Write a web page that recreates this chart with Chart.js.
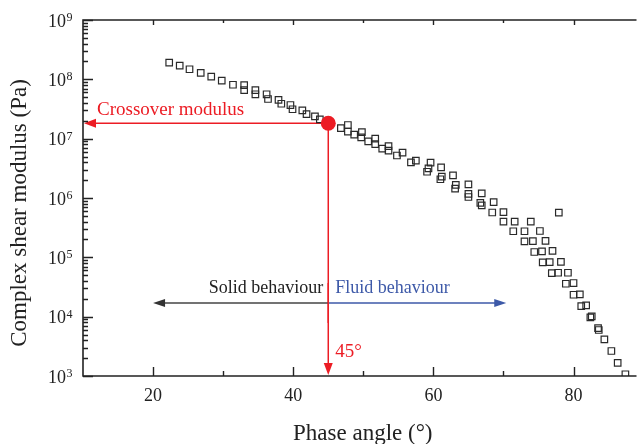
<!DOCTYPE html>
<html>
<head>
<meta charset="utf-8">
<script src="https://cdn.jsdelivr.net/npm/chart.js@4.4.1/dist/chart.umd.min.js"></script>
<style>
  html, body { margin: 0; padding: 0; background: #fff; overflow: hidden; }
  #wrap { width: 642px; height: 444px; position: relative; }
</style>
</head>
<body>
<div id="wrap"><canvas id="modulusChart"></canvas></div>
<script>
// phase angle (deg) and complex shear modulus (Pa)
const angle = [22.3, 23.8, 25.2, 26.8, 28.3, 29.8, 31.4, 33.0, 33.0, 34.6, 34.6, 36.2, 36.4, 37.9, 38.3,
    39.6, 39.9, 41.3, 41.9, 43.1, 43.8,
    46.8, 47.8, 47.8, 48.7, 49.8, 49.7, 50.7, 51.7, 51.7, 52.7, 53.6, 53.6, 54.8, 55.6, 56.8, 57.5,
    59.1, 59.3, 59.6, 61.1, 61.0, 61.2, 62.8, 63.2, 63.1, 65.0, 65.0, 65.0, 66.9, 66.7, 66.9, 68.6,
    68.4, 70.0, 70.0, 71.6, 73.9, 77.9, 71.4, 73.0, 75.2, 73.0, 74.2, 76.0, 74.4, 75.5, 77.0, 75.6,
    76.6, 78.2, 76.9, 77.8, 79.2, 78.9, 80.0, 80.0, 80.9, 81.1, 81.8, 82.4, 82.6, 83.5, 83.6, 84.4,
    85.4, 86.3, 87.4];
const modulus = [1.91e8, 1.70e8, 1.48e8, 1.28e8, 1.11e8, 9.5e7, 8.1e7, 8.0e7, 6.6e7, 6.6e7, 5.6e7, 5.6e7, 4.66e7, 4.49e7, 3.88e7,
    3.69e7, 3.13e7, 3.0e7, 2.6e7, 2.38e7, 2.12e7,
    1.50e7, 1.70e7, 1.31e7, 1.17e7, 1.29e7, 1.05e7, 9.0e6, 1.0e7, 8.1e6, 6.8e6, 7.5e6, 6.3e6, 5.2e6, 5.8e6, 4.0e6, 4.26e6,
    2.77e6, 3.16e6, 3.94e6, 3.29e6, 2.07e6, 2.29e6, 2.41e6, 1.66e6, 1.44e6, 1.70e6, 1.17e6, 1.04e6, 1.20e6, 8.3e5, 7.5e5, 8.5e5,
    5.7e5, 5.8e5, 4.0e5, 4.0e5, 4.0e5, 5.65e5, 2.75e5, 2.75e5, 2.78e5, 1.86e5, 1.88e5, 1.9e5, 1.23e5, 1.26e5, 1.28e5, 8.2e4,
    8.3e4, 8.4e4, 5.4e4, 5.5e4, 5.5e4, 3.59e4, 3.69e4, 2.34e4, 2.37e4, 1.51e4, 1.55e4, 9.75e3, 1.01e4, 6.4e3, 5.96e3, 4.15e3,
    2.64e3, 1.67e3, 1.07e3];

const crossover = [45, 1.82e7];
const solidRange = [20, 45];
const fluidRange = [45, 70.4];
const behaviourLevel = 1.7e4;

const xMajorTicks = [20, 40, 60, 80];
const xMinorTicks = [30, 50, 70];
const yDecades = [1e3, 1e4, 1e5, 1e6, 1e7, 1e8, 1e9];

const RED = '#ec1c24';
const BLUE = '#3d59a8';
const INK = '#222';
const SERIF = '"Liberation Serif", "Times New Roman", serif';

function arrowHead(ctx, x, y, dir, len, half) {
    // dir: 'left' | 'right' | 'down'
    ctx.beginPath();
    if (dir === 'left') { ctx.moveTo(x, y); ctx.lineTo(x + len, y - half); ctx.lineTo(x + len, y + half); }
    if (dir === 'right') { ctx.moveTo(x, y); ctx.lineTo(x - len, y - half); ctx.lineTo(x - len, y + half); }
    if (dir === 'down') { ctx.moveTo(x, y); ctx.lineTo(x - half, y - len); ctx.lineTo(x + half, y - len); }
    ctx.closePath();
    ctx.fill();
}

const axesPlugin = {
    id: 'axesPlugin',
    beforeDatasetsDraw(chart) {
        const ctx = chart.ctx;
        const xs = chart.scales.x, ys = chart.scales.y;
        const a = chart.chartArea;
        const cx = xs.getPixelForValue(crossover[0]);
        const cy = ys.getPixelForValue(crossover[1]);
        ctx.save();

        // crossover guide lines
        ctx.strokeStyle = RED;
        ctx.fillStyle = RED;
        ctx.lineWidth = 1.5;
        ctx.beginPath();
        ctx.moveTo(cx, cy); ctx.lineTo(a.left + 10, cy);
        ctx.moveTo(cx, cy); ctx.lineTo(cx, a.bottom - 10);
        ctx.stroke();
        arrowHead(ctx, a.left + 1, cy, 'left', 12, 4.5);
        arrowHead(ctx, cx, a.bottom - 1, 'down', 12, 4.5);

        // solid / fluid arrows
        const by = ys.getPixelForValue(behaviourLevel);
        const sx = xs.getPixelForValue(solidRange[0]);
        const fx = xs.getPixelForValue(fluidRange[1]);
        ctx.strokeStyle = '#444';
        ctx.fillStyle = '#333';
        ctx.beginPath();
        ctx.moveTo(xs.getPixelForValue(solidRange[1]), by); ctx.lineTo(sx + 8, by);
        ctx.stroke();
        arrowHead(ctx, sx, by, 'left', 12, 4);
        ctx.strokeStyle = BLUE;
        ctx.fillStyle = BLUE;
        ctx.beginPath();
        ctx.moveTo(xs.getPixelForValue(fluidRange[0]), by); ctx.lineTo(fx - 8, by);
        ctx.stroke();
        arrowHead(ctx, fx, by, 'right', 12, 4);

        // re-draw the red vertical over the behaviour arrows
        ctx.strokeStyle = RED;
        ctx.beginPath();
        ctx.moveTo(cx, by - 20); ctx.lineTo(cx, by + 20);
        ctx.stroke();

        // annotation texts
        ctx.font = '19px ' + SERIF;
        ctx.textBaseline = 'alphabetic';
        ctx.textAlign = 'left';
        ctx.fillStyle = RED;
        ctx.fillText('Crossover modulus', a.left + 14, cy - 8);
        ctx.fillText('45°', cx + 7, a.bottom - 19);
        ctx.font = '18px ' + SERIF;
        ctx.fillStyle = INK;
        ctx.textAlign = 'right';
        ctx.fillText('Solid behaviour', cx - 5, by - 10);
        ctx.fillStyle = BLUE;
        ctx.textAlign = 'left';
        ctx.fillText('Fluid behaviour', cx + 7, by - 10);
        ctx.restore();
    },
    afterDraw(chart) {
        const ctx = chart.ctx;
        const xs = chart.scales.x, ys = chart.scales.y;
        const a = chart.chartArea;
        ctx.save();
        ctx.strokeStyle = INK;
        ctx.lineWidth = 1.6;
        ctx.beginPath();
        ctx.moveTo(a.right + 2, a.top); ctx.lineTo(a.left, a.top);
        ctx.lineTo(a.left, a.bottom); ctx.lineTo(a.right + 2, a.bottom);
        ctx.stroke();

        ctx.lineWidth = 1.4;
        ctx.beginPath();
        xMajorTicks.forEach(v => {
            const px = Math.round(xs.getPixelForValue(v)) + 0.5;
            ctx.moveTo(px, a.bottom); ctx.lineTo(px, a.bottom - 9);
            ctx.moveTo(px, a.top); ctx.lineTo(px, a.top + 5);
        });
        xMinorTicks.forEach(v => {
            const px = Math.round(xs.getPixelForValue(v)) + 0.5;
            ctx.moveTo(px, a.bottom); ctx.lineTo(px, a.bottom - 5);
            ctx.moveTo(px, a.top); ctx.lineTo(px, a.top + 3);
        });
        yDecades.forEach((d, i) => {
            const py = Math.round(ys.getPixelForValue(d)) + 0.5;
            ctx.moveTo(a.left, py); ctx.lineTo(a.left + 10, py);
            if (i < yDecades.length - 1) {
                for (let m = 2; m <= 9; m++) {
                    const my = Math.round(ys.getPixelForValue(d * m)) + 0.5;
                    ctx.moveTo(a.left, my); ctx.lineTo(a.left + 5, my);
                }
            }
        });
        ctx.stroke();

        // tick labels
        ctx.fillStyle = INK;
        ctx.font = '18px ' + SERIF;
        ctx.textAlign = 'center';
        ctx.textBaseline = 'middle';
        xMajorTicks.forEach(v => {
            ctx.fillText(String(v), xs.getPixelForValue(v), a.bottom + 20);
        });
        yDecades.forEach(d => {
            const py = ys.getPixelForValue(d);
            ctx.font = '18px ' + SERIF;
            ctx.textAlign = 'right';
            ctx.textBaseline = 'middle';
            ctx.fillText('10', a.left - 17, py + 2);
            ctx.font = '12px ' + SERIF;
            ctx.textAlign = 'left';
            ctx.textBaseline = 'alphabetic';
            ctx.fillText(String(Math.round(Math.log10(d))), a.left - 16.5, py + 1);
        });

        // axis titles
        ctx.font = '23px ' + SERIF;
        ctx.textAlign = 'center';
        ctx.textBaseline = 'middle';
        ctx.fillText('Phase angle (°)', (a.left + a.right) / 2 + 4, a.bottom + 58);
        ctx.translate(20, 213);
        ctx.rotate(-Math.PI / 2);
        ctx.fillText('Complex shear modulus (Pa)', 0, 0);
        ctx.restore();
    }
};

const points = angle.map((x, i) => ({ x: x, y: modulus[i] }));

new Chart(document.getElementById('modulusChart'), {
    type: 'scatter',
    data: {
        datasets: [{
            label: 'Complex shear modulus',
            data: points,
            pointStyle: 'rect',
            pointRadius: 4.6,
            pointHoverRadius: 4.6,
            borderColor: '#2a2a2a',
            borderWidth: 1.2,
            backgroundColor: 'rgba(0,0,0,0)',
            order: 2
        }, {
            label: 'Crossover',
            data: [{ x: crossover[0], y: crossover[1] }],
            pointStyle: 'circle',
            pointRadius: 7.5,
            borderWidth: 0,
            backgroundColor: RED,
            order: 1
        }]
    },
    options: {
        responsive: true,
        maintainAspectRatio: false,
        animation: false,
        layout: { padding: { left: 83, top: 20, right: 0, bottom: 68 } },
        scales: {
            x: { type: 'linear', min: 10, max: 88.7, display: false },
            y: { type: 'logarithmic', min: 1e3, max: 1e9, display: false }
        },
        plugins: {
            legend: { display: false },
            tooltip: { enabled: false }
        }
    },
    plugins: [axesPlugin]
});
</script>
</body>
</html>
